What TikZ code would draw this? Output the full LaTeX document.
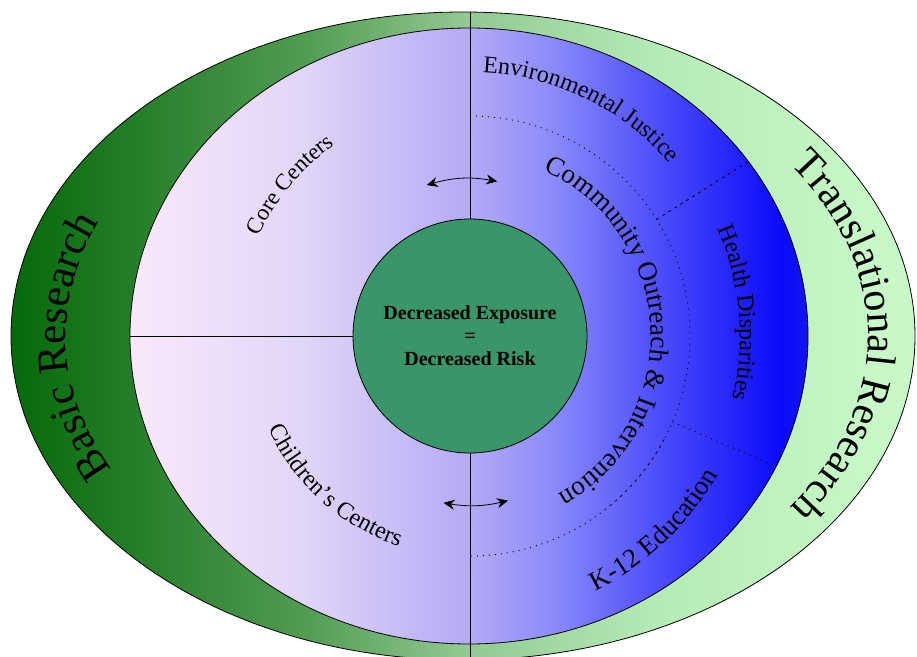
\documentclass[tikz,border=0pt]{standalone}
\usepackage{fontspec}
\setmainfont{Liberation Serif}
\usetikzlibrary{shapes.geometric,arrows.meta,decorations.text}

\definecolor{ringA}{RGB}{5,105,10}
\definecolor{ringB}{RGB}{35,125,40}
\definecolor{ringC}{RGB}{80,155,80}
\definecolor{ringD}{RGB}{145,200,145}
\definecolor{ringE}{RGB}{180,235,180}
\definecolor{ringF}{RGB}{200,248,200}
\definecolor{discA}{RGB}{250,232,250}
\definecolor{discB}{RGB}{226,214,248}
\definecolor{discC}{RGB}{180,170,246}
\definecolor{discD}{RGB}{140,140,250}
\definecolor{discE}{RGB}{80,80,250}
\definecolor{discF}{RGB}{10,10,250}
\definecolor{discG}{RGB}{20,20,235}
\definecolor{hubgreen}{RGB}{56,150,104}

\pgfdeclarehorizontalshading{ringshade}{100bp}{color(0bp)=(ringA);
  color(25bp)=(ringA); color(31.5bp)=(ringB); color(41bp)=(ringC);
  color(50bp)=(ringD); color(60.5bp)=(ringE); color(73bp)=(ringF);
  color(100bp)=(ringF)}
\pgfdeclarehorizontalshading{discshade}{100bp}{color(0bp)=(discA);
  color(25bp)=(discA); color(37.5bp)=(discB); color(50bp)=(discC);
  color(56bp)=(discD); color(63.5bp)=(discE); color(73bp)=(discF);
  color(75bp)=(discG); color(100bp)=(discG)}

\begin{document}
\begin{tikzpicture}[x=1pt, y=1pt,
  rim/.style={draw, line width=0.8pt},
  axisline/.style={line width=0.8pt},
  ringdiv/.style={line width=0.7pt, dash pattern=on 3pt off 4pt},
  dotline/.style={line width=0.9pt, dash pattern=on 1pt off 5pt},
  twoway/.style={{Stealth[length=11pt,width=10pt]}-{Stealth[length=11pt,width=10pt]},
    line width=0.8pt},
  arctext/.style 2 args={decorate, decoration={text along path,
    text align=center, text={|\fontsize{#1}{#1}\selectfont|#2}}}
]
\useasboundingbox (-470,-320) rectangle (447,336);
\node[rim, ellipse, shade, shading=ringshade, inner sep=0pt,
  minimum width=904pt, minimum height=648pt] (ring) at (-7,0) {};
\node[rim, ellipse, shade, shading=discshade, inner sep=0pt,
  minimum width=678pt, minimum height=616pt] (disc) at (-1,0) {};
\node[rim, circle, fill=hubgreen, inner sep=0pt, minimum size=234pt,
  align=center, font=\bfseries\fontsize{20}{23}\selectfont] (hub) at (0,0)
  {Decreased Exposure\\=\\Decreased Risk};
\draw[axisline] (hub.north) -- (hub.north |- ring.north);
\draw[axisline] (hub.south) -- (hub.south |- ring.south);
\draw[axisline] (hub.west) -- (disc.west);
\draw[dotline] (90:220pt) arc[start angle=90, end angle=-28, radius=220pt];
\draw[ringdiv] (-28:220pt) arc[start angle=-28, end angle=-52, radius=220pt];
\draw[dotline] (-52:220pt) arc[start angle=-52, end angle=-90, radius=220pt];
\coordinate (ejcut) at (32:220pt);
\coordinate (hdcut) at (-23:220pt);
\draw[ringdiv] (ejcut) -- (disc.32);
\draw[dotline] (hdcut) -- (disc.-23);
\coordinate (topL) at (106:157pt);
\coordinate (topR) at (80:157pt);
\coordinate (botL) at (261:169pt);
\coordinate (botR) at (283:169pt);
\draw[twoway] (topL) to[bend left=13] (topR);
\draw[twoway] (botL) to[bend right=11] (botR);
\path[arctext={43}{Basic Research}, shift={(-7,0)}] (218:397pt and 285pt)
  arc[start angle=218, end angle=146, x radius=397pt, y radius=285pt];
\path[arctext={42}{Translational Research}, shift={(-7,0)}] (45:405pt and 290pt)
  arc[start angle=45, end angle=-45, x radius=405pt, y radius=290pt];
\path[arctext={23}{Core Centers}] (165:234pt)
  arc[start angle=165, end angle=115, radius=234pt];
\path[arctext={24}{Children’s Centers}] (195:222pt)
  arc[start angle=195, end angle=261, radius=222pt];
\path[arctext={27}{Community Outreach {\&} Intervention}] (95:181pt)
  arc[start angle=95, end angle=-90, radius=181pt];
\path[arctext={24}{Environmental Justice}] (100:264pt)
  arc[start angle=100, end angle=28, radius=264pt];
\path[arctext={24}{Health Disparities}] (40:270pt)
  arc[start angle=40, end angle=-30, radius=270pt];
\path[arctext={27}{K-12 Education}] (-75:284pt)
  arc[start angle=-75, end angle=-18, radius=284pt];
\end{tikzpicture}
\end{document}
